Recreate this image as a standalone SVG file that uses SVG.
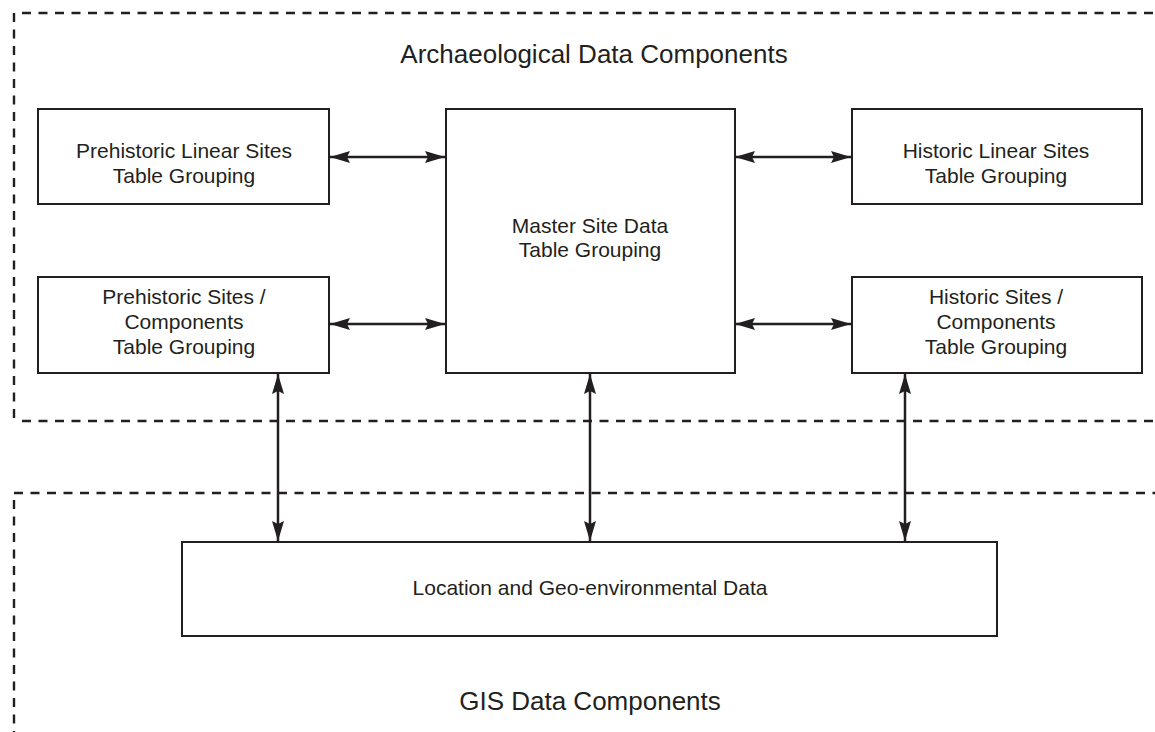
<svg xmlns="http://www.w3.org/2000/svg" width="1155" height="732" viewBox="0 0 1155 732">
<style>
.box{fill:#fff;stroke:#231f20;stroke-width:2}
.dash{fill:none;stroke:#231f20;stroke-width:2.4;stroke-dasharray:9,7.5}
.t{font-family:"Liberation Sans",Arial,sans-serif;font-size:21px;fill:#231f20;text-anchor:middle}
.title{font-family:"Liberation Sans",Arial,sans-serif;font-size:26px;fill:#231f20;text-anchor:middle}
.c{stroke:#231f20;stroke-width:2.5;fill:none;marker-start:url(#a);marker-end:url(#a)}
</style>
<defs>
<marker id="a" viewBox="0 0 20 12" refX="20" refY="6" markerWidth="20" markerHeight="12" markerUnits="userSpaceOnUse" orient="auto-start-reverse">
<path d="M0,0 L20,6 L0,12 L3,6 Z" fill="#231f20"/>
</marker>
</defs>
<g id="regions">
<path class="dash" d="M22,13 H1155"/>
<path class="dash" d="M14,13 V421"/>
<path class="dash" d="M22,421 H1155"/>
<path class="dash" d="M14,493 H1155"/>
<path class="dash" d="M14,500 V732"/>
<text class="title" x="594" y="63">Archaeological Data Components</text>
<text class="title" x="590" y="710">GIS Data Components</text>
</g>
<g id="connectors">
<line class="c" x1="330" y1="157" x2="445" y2="157"/>
<line class="c" x1="330" y1="324" x2="445" y2="324"/>
<line class="c" x1="735" y1="157" x2="851" y2="157"/>
<line class="c" x1="735" y1="324" x2="851" y2="324"/>
<line class="c" x1="278" y1="374" x2="278" y2="541"/>
<line class="c" x1="590" y1="374" x2="590" y2="541"/>
<line class="c" x1="905" y1="374" x2="905" y2="541"/>
</g>
<g id="prehistoric-linear">
<rect class="box" x="38" y="109" width="291" height="95"/>
<text class="t" x="184" y="158">Prehistoric Linear Sites</text>
<text class="t" x="184" y="183">Table Grouping</text>
</g>
<g id="prehistoric-sites">
<rect class="box" x="38" y="277" width="291" height="96"/>
<text class="t" x="184" y="304">Prehistoric Sites /</text>
<text class="t" x="184" y="329">Components</text>
<text class="t" x="184" y="354">Table Grouping</text>
</g>
<g id="master">
<rect class="box" x="446" y="109" width="289" height="264"/>
<text class="t" x="590" y="233">Master Site Data</text>
<text class="t" x="590" y="257">Table Grouping</text>
</g>
<g id="historic-linear">
<rect class="box" x="852" y="109" width="290" height="95"/>
<text class="t" x="996" y="158">Historic Linear Sites</text>
<text class="t" x="996" y="183">Table Grouping</text>
</g>
<g id="historic-sites">
<rect class="box" x="852" y="277" width="290" height="96"/>
<text class="t" x="996" y="304">Historic Sites /</text>
<text class="t" x="996" y="329">Components</text>
<text class="t" x="996" y="354">Table Grouping</text>
</g>
<g id="location">
<rect class="box" x="182" y="542" width="815" height="94"/>
<text class="t" x="590" y="595">Location and Geo-environmental Data</text>
</g>
</svg>
